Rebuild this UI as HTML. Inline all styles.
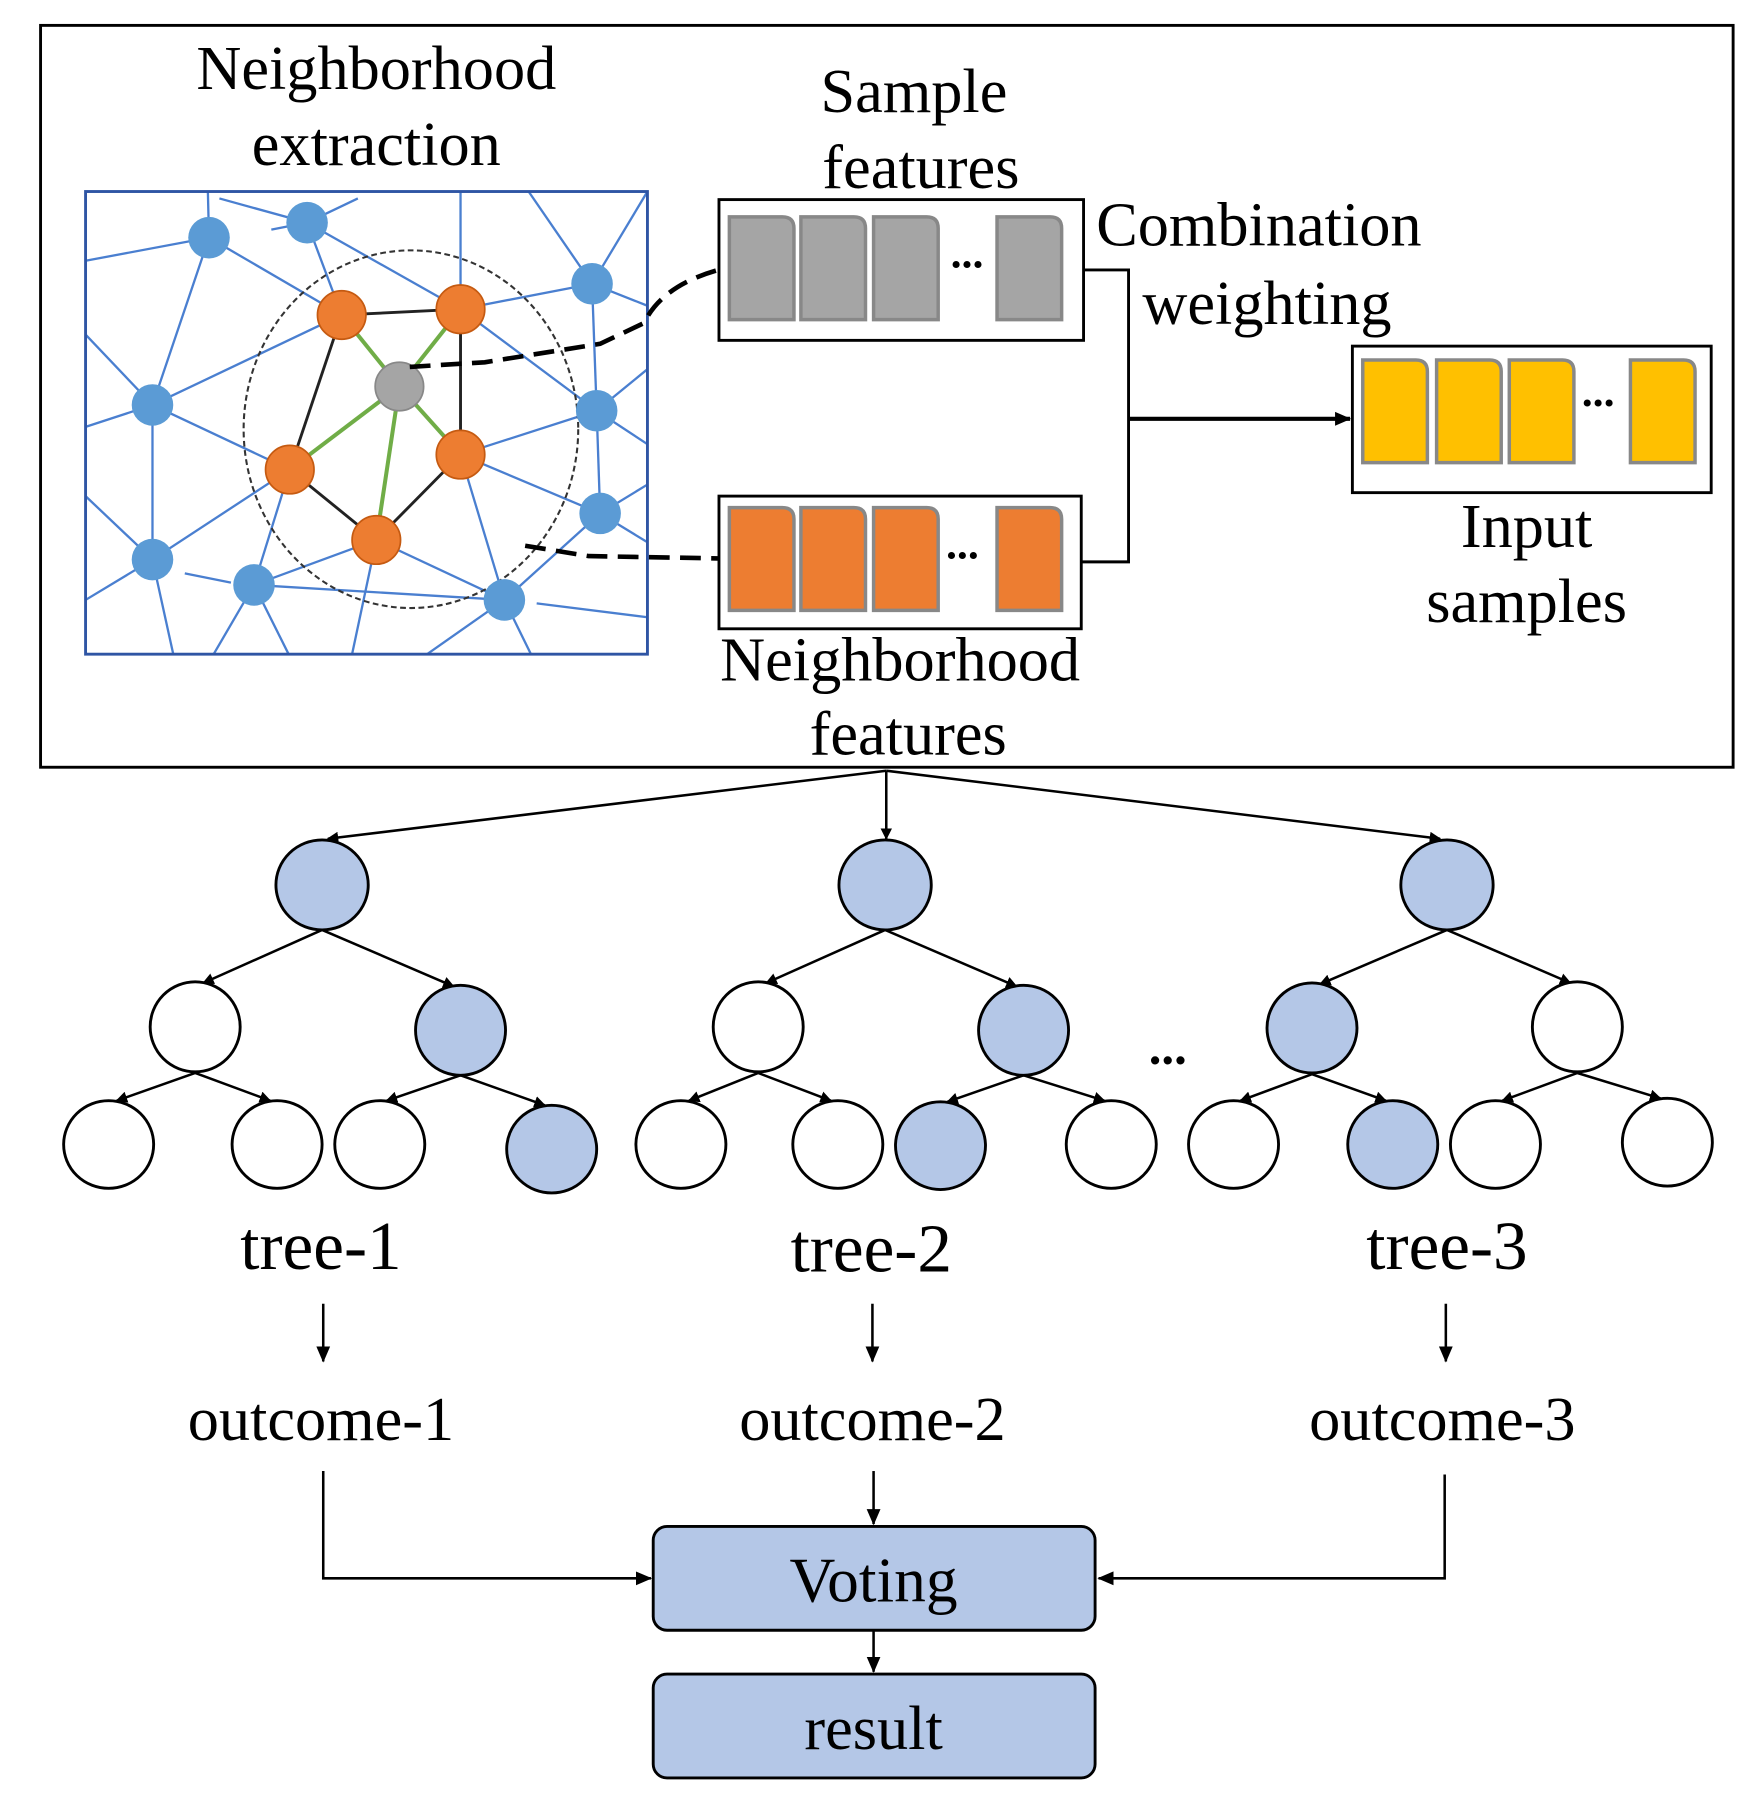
<!DOCTYPE html>
<html><head><meta charset="utf-8"><style>
html,body{margin:0;padding:0;background:#fff;}
svg{display:block;}
text{font-family:"Liberation Serif",serif;fill:#000;}
</style></head><body>
<svg width="1746" height="1801" viewBox="0 0 1513 1561" xmlns="http://www.w3.org/2000/svg">
<defs>
<marker id="ah" markerWidth="10" markerHeight="10" refX="9" refY="5" orient="auto" markerUnits="userSpaceOnUse" viewBox="0 0 10 10"><path d="M0,0 L10,5 L0,10 z" fill="#000"/></marker>
<marker id="ahs" markerWidth="14" markerHeight="14" refX="13" refY="7" orient="auto" markerUnits="userSpaceOnUse" viewBox="0 0 14 14"><path d="M0,1 L14,7 L0,13 z" fill="#000"/></marker>
<g id="cg"><path d="M0,0 h46 q10,0 10,10 v79 h-56 z" stroke="#888" stroke-width="3"/></g>
</defs>
<rect x="35" y="22" width="1467" height="643" fill="none" stroke="#000" stroke-width="2.5"/>

<g stroke="#4a7fd0" stroke-width="2" fill="none">
<line x1="74" y1="226" x2="181" y2="206"/><line x1="181" y1="206" x2="132" y2="351"/><line x1="181" y1="206" x2="296" y2="273"/>
<line x1="235" y1="199" x2="266" y2="193"/><line x1="266" y1="193" x2="296" y2="273"/><line x1="266" y1="193" x2="399" y2="268"/>
<line x1="266" y1="193" x2="310" y2="172"/><line x1="190" y1="172" x2="266" y2="193"/><line x1="180" y1="166" x2="181" y2="206"/>
<line x1="399" y1="166" x2="399" y2="268"/><line x1="399" y1="268" x2="513" y2="246"/><line x1="399" y1="268" x2="517" y2="356"/>
<line x1="458" y1="166" x2="513" y2="246"/><line x1="561" y1="166" x2="513" y2="246"/><line x1="513" y1="246" x2="517" y2="356"/><line x1="513" y1="246" x2="561" y2="265"/>
<line x1="74" y1="290" x2="132" y2="351"/><line x1="74" y1="370" x2="132" y2="351"/><line x1="132" y1="351" x2="296" y2="273"/><line x1="132" y1="351" x2="251" y2="407"/>
<line x1="132" y1="351" x2="132" y2="485"/><line x1="517" y1="356" x2="561" y2="320"/><line x1="517" y1="356" x2="561" y2="385"/>
<line x1="399" y1="394" x2="517" y2="356"/><line x1="399" y1="394" x2="520" y2="445"/><line x1="517" y1="356" x2="520" y2="445"/>
<line x1="520" y1="445" x2="561" y2="420"/><line x1="520" y1="445" x2="561" y2="470"/><line x1="520" y1="445" x2="437" y2="520"/>
<line x1="74" y1="430" x2="132" y2="485"/><line x1="74" y1="520" x2="132" y2="485"/><line x1="132" y1="485" x2="251" y2="407"/>
<line x1="132" y1="485" x2="150" y2="567"/><line x1="160" y1="497" x2="200" y2="505"/><line x1="251" y1="407" x2="220" y2="507"/>
<line x1="220" y1="507" x2="326" y2="468"/><line x1="220" y1="507" x2="437" y2="520"/><line x1="220" y1="507" x2="185" y2="567"/><line x1="220" y1="507" x2="250" y2="567"/>
<line x1="326" y1="468" x2="437" y2="520"/><line x1="326" y1="468" x2="305" y2="567"/><line x1="399" y1="394" x2="437" y2="520"/>
<line x1="437" y1="520" x2="370" y2="567"/><line x1="437" y1="520" x2="460" y2="567"/><line x1="465" y1="523" x2="561" y2="535"/>
</g>
<rect x="74" y="166" width="487" height="401" fill="none" stroke="#2f55a4" stroke-width="2.5"/>
<ellipse cx="356" cy="372" rx="145" ry="155" fill="none" stroke="#333" stroke-width="1.8" stroke-dasharray="5,3"/>
<g stroke-width="2.5"><g stroke="#222">
<line x1="296" y1="273" x2="399" y2="268"/><line x1="296" y1="273" x2="251" y2="407"/><line x1="399" y1="268" x2="399" y2="394"/>
<line x1="251" y1="407" x2="326" y2="468"/><line x1="326" y1="468" x2="399" y2="394"/></g>
<g stroke="#70ad47" stroke-width="3.5">
<line x1="346" y1="335" x2="296" y2="273"/><line x1="346" y1="335" x2="399" y2="268"/><line x1="346" y1="335" x2="251" y2="407"/>
<line x1="346" y1="335" x2="399" y2="394"/><line x1="346" y1="335" x2="326" y2="468"/></g></g>
<g fill="#5b9bd5"><circle cx="181" cy="206" r="18"/><circle cx="266" cy="193" r="18"/><circle cx="513" cy="246" r="18"/><circle cx="132" cy="351" r="18"/><circle cx="517" cy="356" r="18"/><circle cx="520" cy="445" r="18"/><circle cx="132" cy="485" r="18"/><circle cx="220" cy="507" r="18"/><circle cx="437" cy="520" r="18"/></g>
<g fill="#ed7d31" stroke="#c55a11" stroke-width="1.5"><circle cx="296" cy="273" r="21"/><circle cx="399" cy="268" r="21"/><circle cx="251" cy="407" r="21"/><circle cx="399" cy="394" r="21"/><circle cx="326" cy="468" r="21"/></g>
<circle cx="346" cy="335" r="21" fill="#a5a5a5" stroke="#888" stroke-width="1.5"/>
<path d="M355,318 L420,314 L520,298 L558,280 Q575,245 630,232" fill="none" stroke="#000" stroke-width="4" stroke-dasharray="18,9"/>
<path d="M455,473 L510,482 L622,484" fill="none" stroke="#000" stroke-width="4" stroke-dasharray="18,9"/>

<rect x="623" y="173" width="316" height="122" fill="#fff" stroke="#000" stroke-width="2.5"/>
<g fill="#a5a5a5"><use href="#cg" x="632" y="188"/><use href="#cg" x="694" y="188"/><use href="#cg" x="757" y="188"/><use href="#cg" x="864" y="188"/></g>
<text x="838" y="232" font-size="38" font-weight="bold" text-anchor="middle">...</text>
<rect x="623" y="430" width="314" height="115" fill="#fff" stroke="#000" stroke-width="2.5"/>
<g fill="#ed7d31"><use href="#cg" x="632" y="440"/><use href="#cg" x="694" y="440"/><use href="#cg" x="757" y="440"/><use href="#cg" x="864" y="440"/></g>
<text x="834" y="484" font-size="38" font-weight="bold" text-anchor="middle">...</text>
<polyline points="939,234 978,234 978,487 937,487" fill="none" stroke="#000" stroke-width="2.5"/>
<line x1="978" y1="363" x2="1170" y2="363" stroke="#000" stroke-width="3.5" marker-end="url(#ahs)"/>
<rect x="1172" y="300" width="311" height="127" fill="#fff" stroke="#000" stroke-width="2.5"/>
<g fill="#ffc000"><use href="#cg" x="1181" y="312"/><use href="#cg" x="1245" y="312"/><use href="#cg" x="1308" y="312"/><use href="#cg" x="1413" y="312"/></g>
<text x="1385" y="352" font-size="38" font-weight="bold" text-anchor="middle">...</text>

<g font-size="54" text-anchor="middle">
<text x="326" y="77">Neighborhood</text><text x="326" y="143">extraction</text>
<text x="792" y="97">Sample</text><text x="798" y="163">features</text>
<text x="950" y="213" text-anchor="start">Combination</text><text x="990" y="281" text-anchor="start">weighting</text>
<text x="1323" y="474">Input</text><text x="1323" y="539">samples</text>
<text x="780" y="590">Neighborhood</text><text x="787" y="654">features</text>
</g>

<g stroke="#000" stroke-width="2.2" fill="none" marker-end="url(#ah)">
<line x1="768" y1="668" x2="284" y2="727"/><line x1="768" y1="668" x2="768" y2="727"/><line x1="768" y1="668" x2="1248" y2="727"/>
<line x1="279" y1="806" x2="176" y2="852"/><line x1="279" y1="806" x2="393" y2="855"/>
<line x1="767" y1="806" x2="664" y2="852"/><line x1="767" y1="806" x2="881" y2="855"/>
<line x1="1254" y1="806" x2="1144" y2="853"/><line x1="1254" y1="806" x2="1361" y2="852"/>
<line x1="169" y1="930" x2="101" y2="954"/><line x1="169" y1="930" x2="234" y2="954"/>
<line x1="399" y1="932" x2="335" y2="954"/><line x1="399" y1="932" x2="472" y2="958"/>
<line x1="657" y1="930" x2="597" y2="954"/><line x1="657" y1="930" x2="720" y2="954"/>
<line x1="887" y1="932" x2="821" y2="955"/><line x1="887" y1="932" x2="957" y2="954"/>
<line x1="1137" y1="931" x2="1075" y2="954"/><line x1="1137" y1="931" x2="1201" y2="954"/>
<line x1="1367" y1="930" x2="1302" y2="954"/><line x1="1367" y1="930" x2="1439" y2="952"/>
</g>
<g stroke="#000" stroke-width="2.5">
<g fill="#b4c7e7"><ellipse cx="279" cy="767" rx="40" ry="39"/><ellipse cx="767" cy="767" rx="40" ry="39"/><ellipse cx="1254" cy="767" rx="40" ry="39"/>
<ellipse cx="399" cy="893" rx="39" ry="39"/><ellipse cx="887" cy="893" rx="39" ry="39"/><ellipse cx="1137" cy="891" rx="39" ry="39"/>
<ellipse cx="478" cy="996" rx="39" ry="38"/><ellipse cx="815" cy="993" rx="39" ry="38"/><ellipse cx="1207" cy="992" rx="39" ry="38"/></g>
<g fill="#fff"><ellipse cx="169" cy="890" rx="39" ry="39"/><ellipse cx="657" cy="890" rx="39" ry="39"/><ellipse cx="1367" cy="890" rx="39" ry="39"/>
<ellipse cx="94" cy="992" rx="39" ry="38"/><ellipse cx="240" cy="992" rx="39" ry="38"/><ellipse cx="329" cy="992" rx="39" ry="38"/>
<ellipse cx="590" cy="992" rx="39" ry="38"/><ellipse cx="726" cy="992" rx="39" ry="38"/><ellipse cx="963" cy="992" rx="39" ry="38"/>
<ellipse cx="1069" cy="992" rx="39" ry="38"/><ellipse cx="1296" cy="992" rx="39" ry="38"/><ellipse cx="1445" cy="990" rx="39" ry="38"/></g>
</g>
<text x="1012" y="922" font-size="44" font-weight="bold" text-anchor="middle">...</text>
<g font-size="60" text-anchor="middle">
<text x="278" y="1100">tree-1</text><text x="755" y="1102">tree-2</text><text x="1254" y="1100">tree-3</text>
</g>
<g font-size="54" text-anchor="middle">
<text x="278" y="1248">outcome-1</text><text x="756" y="1248">outcome-2</text><text x="1250" y="1248">outcome-3</text>
</g>
<g stroke="#000" stroke-width="2.2" fill="none" marker-end="url(#ahs)">
<line x1="280" y1="1130" x2="280" y2="1180"/><line x1="756" y1="1130" x2="756" y2="1180"/><line x1="1253" y1="1130" x2="1253" y2="1180"/>
<polyline points="280,1275 280,1368 564,1368"/><line x1="757" y1="1275" x2="757" y2="1321"/><polyline points="1252,1278 1252,1368 952,1368"/>
<line x1="757" y1="1413" x2="757" y2="1449"/>
</g>
<rect x="566" y="1323" width="383" height="90" rx="12" fill="#b4c7e7" stroke="#000" stroke-width="2.5"/>
<rect x="566" y="1451" width="383" height="90" rx="12" fill="#b4c7e7" stroke="#000" stroke-width="2.5"/>
<text x="757" y="1388" font-size="55" text-anchor="middle">Voting</text>
<text x="757" y="1516" font-size="54" text-anchor="middle">result</text>
</svg>
</body></html>
